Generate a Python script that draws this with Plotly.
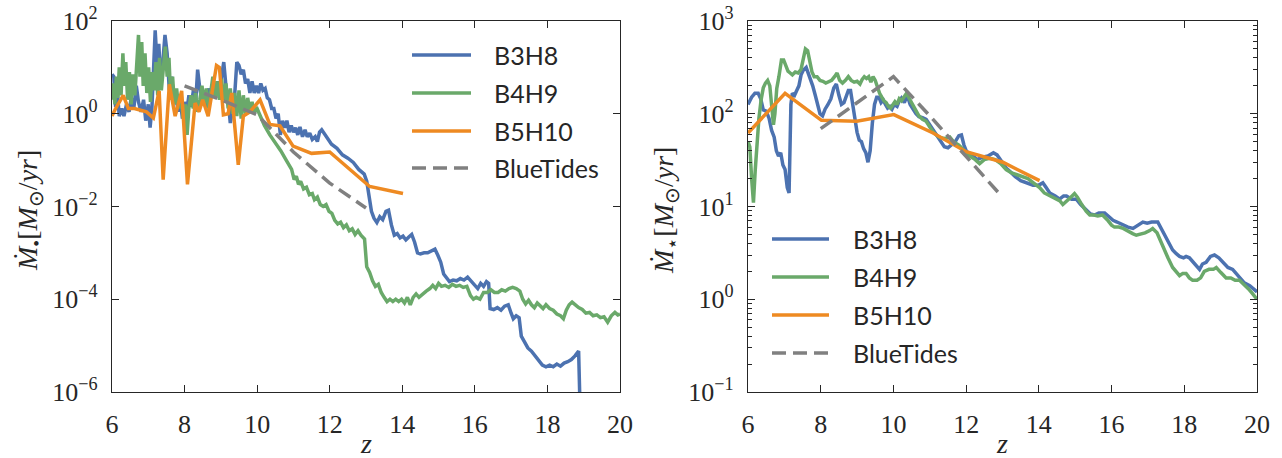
import plotly.graph_objects as go

# ---------------------------------------------------------------
# Black hole accretion rate (left panel), redshift z vs Mdot_BH
# ---------------------------------------------------------------
bh_b3h8_z = [6.00, 6.05, 6.10, 6.15, 6.20, 6.27, 6.33, 6.40, 6.47, 6.53, 6.60, 6.67, 6.73, 6.80,
             6.87, 6.93, 7.00, 7.05, 7.10, 7.15, 7.19, 7.24, 7.29, 7.34, 7.40, 7.46, 7.52, 7.58,
             7.64, 7.70, 7.76, 7.82, 7.88, 7.94, 8.00, 8.06, 8.12, 8.18, 8.25, 8.31, 8.36, 8.42,
             8.48, 8.54, 8.60, 8.66, 8.72, 8.78, 8.84, 8.90, 8.96, 9.02, 9.08, 9.14, 9.20, 9.26,
             9.32, 9.38, 9.44, 9.50, 9.56, 9.62, 9.68, 9.74, 9.80, 9.86, 9.92, 9.98, 10.04, 10.10,
             10.16, 10.22, 10.28, 10.34, 10.40, 10.46, 10.52, 10.58, 10.64, 10.70, 10.76, 10.82,
             10.88, 10.94, 11.00, 11.06, 11.12, 11.18, 11.25, 11.32, 11.38, 11.45, 11.52, 11.60,
             11.66, 11.72, 11.78, 11.90, 12.05, 12.20, 12.35, 12.50, 12.65, 12.80, 12.95, 13.02,
             13.08, 13.15, 13.22, 13.30, 13.38, 13.46, 13.55, 13.62, 13.70, 13.78, 13.86, 13.94,
             14.02, 14.10, 14.18, 14.26, 14.34, 14.42, 14.50, 14.60, 14.70, 14.80, 14.90, 14.98,
             15.06, 15.14, 15.22, 15.30, 15.40, 15.50, 15.60, 15.70, 15.80, 15.90, 16.00, 16.08,
             16.16, 16.24, 16.32, 16.38, 16.42, 16.52, 16.62, 16.72, 16.82, 16.92, 17.00, 17.06,
             17.14, 17.22, 17.28, 17.36, 17.46, 17.56, 17.66, 17.76, 17.86, 17.96, 18.06, 18.16,
             18.26, 18.36, 18.46, 18.56, 18.66, 18.76, 18.86, 18.92]
bh_b3h8 = [7.1, 6.3, 1.4, 2.8, 0.89, 1.3, 0.89, 1.6, 1.1, 2.2, 1.3, 4.0, 1.8, 1.1,
           2.0, 0.71, 1.6, 0.50, 1.3, 16, 63, 13, 32, 5.0, 13, 50, 20, 3.2,
           6.3, 1.6, 2.8, 1.1, 2.2, 0.79, 1.8, 1.1, 2.5, 1.4, 3.5, 2.0, 8.9, 3.5,
           1.8, 2.8, 1.4, 3.5, 2.2, 4.5, 2.5, 5.0, 2.2, 6.3, 13, 4.0, 2.0, 0.63,
           1.3, 2.5, 13, 11, 7.1, 8.9, 4.5, 5.6, 2.8, 5.0, 2.8, 4.0, 2.8, 4.5,
           3.2, 3.5, 2.2, 2.0, 1.3, 1.3, 0.79, 1.0, 0.35, 0.71, 0.50, 0.71,
           0.40, 0.56, 0.40, 0.50, 0.35, 0.52, 0.32, 0.45, 0.32, 0.38, 0.28, 0.32,
           0.25, 0.40, 0.45, 0.32, 0.22, 0.18, 0.13, 0.11, 0.089, 0.063, 0.050, 0.035,
           0.018, 0.0079, 0.0056, 0.0045, 0.0060, 0.0052, 0.0079, 0.0083, 0.0040, 0.0024, 0.0026, 0.0021,
           0.0023, 0.0019, 0.0022, 0.0025, 0.0017, 0.0010, 0.00095, 0.0010, 0.0010, 0.0011, 0.0012, 0.00089,
           0.00063, 0.00035, 0.00028, 0.00024, 0.00026, 0.00025, 0.00028, 0.00026, 0.00030, 0.00024, 0.00019, 0.00017,
           0.00022, 0.00019, 0.00024, 0.00022, 6.3e-5, 6.0e-5, 6.6e-5, 5.8e-5, 7.1e-5, 7.6e-5, 5.0e-5, 3.8e-5,
           4.4e-5, 4.0e-5, 1.6e-5, 1.2e-5, 8.9e-6, 7.6e-6, 6.0e-6, 5.0e-6, 3.8e-6, 3.5e-6, 3.8e-6, 3.5e-6,
           4.0e-6, 3.6e-6, 4.2e-6, 4.5e-6, 5.0e-6, 6.0e-6, 7.6e-6, 1.0e-7]

bh_b4h9_z = [6.00, 6.04, 6.08, 6.12, 6.16, 6.20, 6.25, 6.30, 6.34, 6.38, 6.43, 6.48, 6.53, 6.58,
             6.63, 6.68, 6.73, 6.77, 6.82, 6.86, 6.91, 6.96, 7.01, 7.06, 7.11, 7.16, 7.21, 7.26,
             7.31, 7.36, 7.42, 7.47, 7.52, 7.57, 7.62, 7.67, 7.72, 7.78, 7.84, 7.90, 7.96, 8.02,
             8.07, 8.12, 8.18, 8.24, 8.30, 8.36, 8.42, 8.48, 8.54, 8.60, 8.66, 8.72, 8.78, 8.84,
             8.90, 8.96, 9.02, 9.08, 9.14, 9.20, 9.26, 9.32, 9.38, 9.44, 9.50, 9.56, 9.62, 9.68,
             9.74, 9.80, 9.86, 9.92, 9.98, 10.06, 10.20, 10.35, 10.50, 10.65, 10.80, 10.95, 11.02,
             11.08, 11.14, 11.20, 11.28, 11.36, 11.44, 11.52, 11.58, 11.66, 11.74, 11.82, 11.90,
             11.98, 12.06, 12.14, 12.22, 12.30, 12.38, 12.46, 12.54, 12.62, 12.70, 12.78, 12.86,
             12.96, 13.02, 13.10, 13.18, 13.26, 13.34, 13.42, 13.50, 13.58, 13.66, 13.74, 13.82,
             13.90, 13.98, 14.06, 14.14, 14.22, 14.30, 14.38, 14.46, 14.56, 14.66, 14.76, 14.84,
             14.92, 15.00, 15.08, 15.18, 15.28, 15.38, 15.48, 15.58, 15.68, 15.78, 15.88, 15.96,
             16.04, 16.14, 16.24, 16.34, 16.44, 16.54, 16.64, 16.74, 16.84, 16.94, 17.04, 17.14,
             17.24, 17.32, 17.40, 17.48, 17.56, 17.64, 17.72, 17.80, 17.88, 17.96, 18.06, 18.16,
             18.26, 18.36, 18.44, 18.52, 18.60, 18.68, 18.76, 18.86, 18.96, 19.06, 19.16, 19.26,
             19.36, 19.46, 19.56, 19.66, 19.76, 19.86, 19.94, 20.00]
bh_b4h9 = [2.0, 4.5, 1.6, 6.3, 2.2, 10, 2.5, 20, 4.0, 13, 2.0, 7.9, 1.6, 7.1,
           2.5, 16, 50, 6.3, 35, 4.0, 20, 2.8, 10, 1.8, 7.9, 3.2, 13, 2.5,
           16, 3.2, 11, 28, 6.3, 16, 2.0, 6.3, 1.6, 3.5, 1.3, 2.5, 0.79, 1.6,
           0.35, 1.4, 2.5, 1.3, 2.8, 1.1, 2.0, 4.0, 1.6, 3.5, 1.3, 3.2, 6.3, 2.2,
           5.0, 2.0, 5.6, 2.0, 4.5, 1.3, 3.5, 1.0, 2.8, 0.89, 3.2, 0.79, 2.5, 1.0,
           2.2, 1.1, 1.8, 1.0, 1.4, 1.0, 0.56, 0.35, 0.24, 0.16, 0.10, 0.063, 0.038,
           0.045, 0.030, 0.035, 0.024, 0.026, 0.018, 0.019, 0.014, 0.016, 0.011, 0.010, 0.011,
           0.0079, 0.0071, 0.0050, 0.0042, 0.0046, 0.0035, 0.0040, 0.0030, 0.0033, 0.0025, 0.0030, 0.0024,
           0.0020, 0.00050, 0.00038, 0.00025, 0.00019, 0.00021, 0.00014, 0.00011, 8.9e-5, 1.0e-4, 8.9e-5, 1.0e-4,
           8.9e-5, 1.0e-4, 8.3e-5, 1.1e-4, 7.6e-5, 1.1e-4, 1.3e-4, 1.1e-4, 1.3e-4, 1.5e-4, 1.7e-4, 2.0e-4,
           1.7e-4, 2.2e-4, 1.9e-4, 2.0e-4, 1.8e-4, 2.1e-4, 1.9e-4, 2.0e-4, 1.8e-4, 1.9e-4, 1.2e-4, 1.0e-4,
           1.1e-4, 1.0e-4, 1.4e-4, 1.4e-4, 1.6e-4, 1.4e-4, 1.4e-4, 1.6e-4, 1.5e-4, 1.7e-4, 1.8e-4, 1.7e-4,
           1.5e-4, 1.0e-4, 7.9e-5, 9.5e-5, 7.6e-5, 6.6e-5, 8.3e-5, 7.2e-5, 6.3e-5, 7.6e-5, 6.3e-5, 5.8e-5,
           4.8e-5, 4.4e-5, 3.8e-5, 5.8e-5, 7.6e-5, 8.7e-5, 7.6e-5, 6.6e-5, 6.0e-5, 5.0e-5, 5.2e-5, 4.4e-5,
           4.6e-5, 4.0e-5, 4.2e-5, 3.2e-5, 4.4e-5, 5.2e-5, 4.6e-5, 4.8e-5]

bh_b5h10_z = [6.00, 6.10, 6.31, 6.45, 6.62, 6.78, 6.95, 7.14, 7.30, 7.41, 7.58, 7.74, 7.92, 8.08,
              8.29, 8.40, 8.50, 8.65, 8.79, 8.88, 8.96, 9.07, 9.20, 9.30, 9.48, 9.62, 9.80, 9.98,
              10.08, 10.35, 10.63, 10.99, 11.50, 12.00, 13.10, 14.02]
bh_b5h10 = [0.89, 1.3, 2.5, 1.3, 1.3, 1.2, 1.1, 0.81, 3.1, 0.038, 4.3, 0.89, 3.1, 0.030,
            1.7, 1.1, 2.0, 0.89, 3.9, 11, 10, 0.95, 1.0, 2.8, 0.079, 0.89, 1.1, 1.6,
            2.0, 0.59, 0.55, 0.20, 0.14, 0.15, 0.027, 0.019]

bh_bluetides_z = [8.0, 9.0, 10.0, 11.0, 12.0, 13.0]
bh_bluetides = [4.0, 2.0, 0.95, 0.15, 0.032, 0.0093]

# ---------------------------------------------------------------
# Star formation rate (right panel), redshift z vs Mdot_star
# ---------------------------------------------------------------
sf_b3h8_z = [6.00, 6.10, 6.19, 6.28, 6.35, 6.42, 6.50, 6.58, 6.65, 6.72, 6.78, 6.84, 6.90, 6.96,
             7.02, 7.08, 7.13, 7.18, 7.22, 7.28, 7.34, 7.40, 7.46, 7.52, 7.60, 7.66, 7.72, 7.78,
             7.85, 7.92, 7.98, 8.05, 8.12, 8.20, 8.28, 8.36, 8.43, 8.50, 8.57, 8.64, 8.70, 8.76,
             8.82, 8.88, 8.94, 9.00, 9.06, 9.12, 9.18, 9.24, 9.30, 9.36, 9.42, 9.48, 9.54, 9.60,
             9.66, 9.72, 9.78, 9.84, 9.90, 9.96, 10.02, 10.10, 10.16, 10.22, 10.30, 10.38, 10.46,
             10.54, 10.62, 10.70, 10.80, 10.90, 11.00, 11.10, 11.20, 11.30, 11.40, 11.50, 11.60,
             11.70, 11.80, 11.87, 11.94, 12.00, 12.10, 12.20, 12.30, 12.45, 12.60, 12.75, 12.85,
             13.00, 13.10, 13.20, 13.35, 13.50, 13.65, 13.84, 14.00, 14.11, 14.20, 14.30, 14.45,
             14.57, 14.68, 14.76, 14.90, 15.03, 15.15, 15.30, 15.42, 15.53, 15.65, 15.81, 15.92,
             16.04, 16.15, 16.31, 16.45, 16.59, 16.72, 16.86, 16.98, 17.10, 17.27, 17.38, 17.50,
             17.60, 17.68, 17.78, 17.87, 17.98, 18.05, 18.14, 18.28, 18.42, 18.50, 18.60, 18.72,
             18.83, 18.95, 19.06, 19.20, 19.33, 19.43, 19.52, 19.65, 19.80, 19.93, 20.00]
sf_b3h8 = [126, 151, 166, 166, 145, 110, 107, 89, 66, 56, 40, 35, 38, 28,
           25, 16, 14, 126, 166, 158, 178, 200, 263, 295, 316, 275, 240, 200,
           158, 126, 100, 95, 112, 126, 145, 190, 209, 158, 126, 132, 158, 178,
           178, 126, 89, 63, 52, 50, 42, 38, 30, 40, 79, 126, 151, 151,
           132, 141, 126, 115, 120, 112, 126, 120, 138, 148, 132, 158, 126,
           110, 100, 93, 91, 87, 76, 68, 59, 52, 44, 43, 46,
           50, 58, 59, 46, 40, 36, 35, 32, 34, 35, 38, 36,
           30, 26, 24, 21, 19, 18, 17, 17, 18, 16, 14, 13,
           12, 13, 13, 12, 12, 10.5, 9.1, 8.3, 8.1, 8.5, 8.5, 7.8,
           7.1, 6.8, 6.3, 6.0, 5.8, 6.3, 6.8, 6.6, 6.8, 6.8, 5.6, 4.7,
           3.8, 3.4, 3.1, 2.9, 2.8, 2.9, 2.8, 2.4, 2.1, 2.4, 2.5, 2.9,
           3.0, 2.8, 2.5, 2.2, 2.1, 1.9, 1.7, 1.5, 1.4, 1.26, 1.2]

sf_b4h9_z = [6.00, 6.05, 6.10, 6.15, 6.20, 6.25, 6.30, 6.36, 6.42, 6.48, 6.54, 6.60, 6.65, 6.70,
             6.74, 6.79, 6.85, 6.92, 6.98, 7.04, 7.10, 7.16, 7.22, 7.30, 7.38, 7.46, 7.52, 7.58,
             7.64, 7.70, 7.76, 7.82, 7.90, 7.98, 8.06, 8.14, 8.22, 8.30, 8.38, 8.45, 8.52, 8.60,
             8.68, 8.76, 8.84, 8.92, 9.00, 9.08, 9.14, 9.20, 9.26, 9.32, 9.38, 9.44, 9.50, 9.56,
             9.62, 9.68, 9.74, 9.80, 9.86, 9.92, 9.98, 10.04, 10.10, 10.16, 10.22, 10.30, 10.36,
             10.44, 10.52, 10.60, 10.70, 10.80, 10.90, 11.00, 11.10, 11.20, 11.30, 11.40, 11.55,
             11.65, 11.80, 11.95, 12.10, 12.25, 12.37, 12.50, 12.65, 12.80, 12.95, 13.10, 13.25,
             13.40, 13.55, 13.70, 13.85, 14.02, 14.15, 14.30, 14.45, 14.58, 14.66, 14.78, 14.88,
             14.98, 15.06, 15.18, 15.30, 15.40, 15.52, 15.62, 15.75, 15.88, 16.00, 16.08, 16.20,
             16.32, 16.45, 16.58, 16.68, 16.80, 16.92, 17.05, 17.13, 17.25, 17.35, 17.45, 17.55,
             17.68, 17.78, 17.87, 17.96, 18.05, 18.14, 18.23, 18.35, 18.45, 18.55, 18.68, 18.80,
             18.88, 19.00, 19.15, 19.28, 19.40, 19.52, 19.64, 19.76, 19.86, 19.93, 20.00]
sf_b4h9 = [50, 44, 20, 11, 25, 50, 89, 141, 190, 214, 229, 200, 112, 76,
           100, 186, 251, 380, 380, 331, 288, 275, 263, 282, 275, 302, 380, 501,
           479, 355, 282, 251, 251, 229, 224, 214, 219, 229, 251, 275, 229, 214,
           229, 251, 229, 219, 224, 209, 234, 251, 240, 251, 219, 251, 229, 190,
           166, 151, 138, 132, 120, 115, 126, 135, 126, 145, 138, 151, 166,
           145, 126, 110, 95, 87, 83, 72, 63, 58, 55, 54, 56,
           50, 46, 40, 35, 32, 29, 32, 33, 32, 29, 25, 23,
           22, 21, 20, 18, 16, 14, 13, 12, 11.5, 10.5, 11.5, 12.6,
           13.8, 12.6, 10.5, 8.9, 8.1, 8.1, 7.9, 8.1, 7.2, 6.3, 6.0, 6.0,
           5.8, 5.4, 5.1, 4.9, 5.0, 5.2, 5.5, 5.8, 5.2, 4.2, 3.4, 2.8,
           2.2, 1.95, 1.8, 1.9, 1.9, 1.7, 1.6, 1.6, 1.7, 2.0, 2.1, 2.1,
           2.2, 1.95, 1.7, 1.7, 1.6, 1.6, 1.45, 1.3, 1.17, 1.07, 1.0]

sf_b5h10_z = [6.0, 7.02, 8.02, 8.99, 10.01, 11.09, 12.0, 13.01, 14.02]
sf_b5h10 = [62, 166, 85, 83, 98, 62, 39, 30, 19]

sf_bluetides_z = [8.0, 9.0, 10.0, 11.0, 12.0, 13.0]
sf_bluetides = [69, 132, 251, 95, 35, 12.6]

# Tick labels
x_ticks = [6, 8, 10, 12, 14, 16, 18, 20]
bh_ticks = [1e-6, 1e-4, 1e-2, 1e0, 1e2]
bh_ticktext = ["10<sup>−6</sup>", "10<sup>−4</sup>", "10<sup>−2</sup>", "10<sup>0</sup>", "10<sup>2</sup>"]
sf_ticks = [1e-1, 1e0, 1e1, 1e2, 1e3]
sf_ticktext = ["10<sup>−1</sup>", "10<sup>0</sup>", "10<sup>1</sup>", "10<sup>2</sup>", "10<sup>3</sup>"]
series_names = ["B3H8", "B4H9", "B5H10", "BlueTides"]

# Styling
W, H = 1282, 458
BLUE, GREEN, ORANGE, GREY = "#4C72B0", "#6AA96A", "#EE8A22", "#808080"
colors = [BLUE, GREEN, ORANGE, GREY]
INK = "#262626"
SERIF = "Liberation Serif"
SANS = "Lato"
LW = 3.5
DASH = "14px,7px"

fig = go.Figure()


def add_line(x, y, color, xa, ya, dash="solid"):
    fig.add_trace(go.Scatter(x=x, y=y, mode="lines", xaxis=xa, yaxis=ya,
                             line=dict(color=color, width=LW, dash=dash),
                             showlegend=False, hoverinfo="skip"))


add_line(bh_b3h8_z, bh_b3h8, BLUE, "x", "y")
add_line(bh_b4h9_z, bh_b4h9, GREEN, "x", "y")
add_line(bh_b5h10_z, bh_b5h10, ORANGE, "x", "y")
add_line(bh_bluetides_z, bh_bluetides, GREY, "x", "y", DASH)

add_line(sf_b3h8_z, sf_b3h8, BLUE, "x2", "y2")
add_line(sf_b4h9_z, sf_b4h9, GREEN, "x2", "y2")
add_line(sf_b5h10_z, sf_b5h10, ORANGE, "x2", "y2")
add_line(sf_bluetides_z, sf_bluetides, GREY, "x2", "y2", DASH)


def px(x):
    return x / W


def py(y):
    return 1 - y / H


y_dom = [py(392), py(21)]
common_x = dict(range=[6, 20], tickmode="array", tickvals=x_ticks, ticktext=[str(v) for v in x_ticks],
                ticks="inside", ticklen=7, tickwidth=1.25, tickcolor=INK,
                showline=True, linecolor=INK, linewidth=1.4, mirror="ticks",
                showgrid=False, zeroline=False, ticklabelstandoff=9, automargin=False,
                tickfont=dict(family=SERIF, size=26, color=INK))
common_y = dict(type="log", tickmode="array", ticks="inside", ticklen=7, tickwidth=1.25,
                tickcolor=INK, showline=True, linecolor=INK, linewidth=1.4, mirror="ticks",
                showgrid=False, zeroline=False, ticklabelstandoff=8, domain=y_dom, automargin=False,
                tickfont=dict(family=SERIF, size=26, color=INK))

sf_minor = [m * 10 ** e for e in range(-1, 3) for m in range(2, 10)]

fig.update_layout(
    width=W, height=H, margin=dict(l=0, r=0, t=0, b=0, autoexpand=False),
    paper_bgcolor="white", plot_bgcolor="white", showlegend=False,
    xaxis=dict(common_x, domain=[px(112), px(620)], anchor="y"),
    yaxis=dict(common_y, range=[-6, 2], tickvals=bh_ticks, ticktext=bh_ticktext, anchor="x"),
    xaxis2=dict(common_x, domain=[px(748), px(1257)], anchor="y2"),
    yaxis2=dict(common_y, range=[-1, 3], tickvals=sf_ticks, ticktext=sf_ticktext, anchor="x2",
                minor=dict(tickmode="array", tickvals=sf_minor, ticks="inside", ticklen=4,
                           tickwidth=1, tickcolor=INK, showgrid=False)),
)

# Axis titles
title_font = dict(family=SERIF, size=28, color=INK)
ann = [
    dict(x=px(29), y=py(211), text="<i>Ṁ</i><sub>•</sub>[<i>M</i><sub>⊙</sub>/<i>yr</i>]",
         textangle=-90, font=title_font),
    dict(x=px(665), y=py(211), text="<i>Ṁ</i><sub>⋆</sub>[<i>M</i><sub>⊙</sub>/<i>yr</i>]",
         textangle=-90, font=title_font),
    dict(x=px(366), y=py(443), text="<i>z</i>", font=title_font),
    dict(x=px(1002), y=py(443), text="<i>z</i>", font=title_font),
]
for a in ann:
    a["xanchor"] = "center"
    a["yanchor"] = "middle"

# Hand-drawn legends for both panels
shapes = []
legends = [(412, 471, 492, [55, 93, 131, 168]), (772, 829, 851, [239, 277, 315, 353])]
for x0, x1, xt, ys in legends:
    for name, col, yy in zip(series_names, colors, ys):
        shapes.append(dict(type="line", xref="paper", yref="paper", x0=px(x0), x1=px(x1),
                           y0=py(yy), y1=py(yy),
                           line=dict(color=col, width=LW, dash=DASH if name == "BlueTides" else "solid")))
        ann.append(dict(x=px(xt), y=py(yy), text=name, xanchor="left", yanchor="middle",
                        font=dict(family=SANS, size=25, color=INK)))

for a in ann:
    a.setdefault("xref", "paper")
    a.setdefault("yref", "paper")
    a.setdefault("showarrow", False)
fig.update_layout(annotations=ann, shapes=shapes)

fig.write_html("out.html")
